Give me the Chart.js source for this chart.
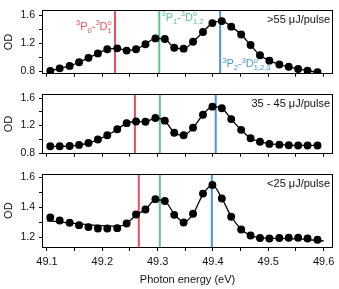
<!DOCTYPE html>
<html>
<head>
<meta charset="utf-8">
<script src="https://cdn.jsdelivr.net/npm/chart.js@4"></script>
<style>
  body { margin: 0; background: #fff; width: 339px; height: 289px; position: relative; overflow: hidden; }
  canvas { position: absolute; left: 0; }
</style>
</head>
<body>
<canvas id="c1" width="339" height="84" style="top:0px"></canvas>
<canvas id="c2" width="339" height="80" style="top:84px"></canvas>
<canvas id="c3" width="339" height="125" style="top:164px"></canvas>
<script>
// photon energies of the measured points (eV)
const energy = [49.106, 49.123, 49.141, 49.158, 49.175, 49.192, 49.209, 49.227, 49.244, 49.261,
                49.278, 49.296, 49.313, 49.330, 49.347, 49.364, 49.382, 49.399, 49.416, 49.433,
                49.451, 49.468, 49.485, 49.502, 49.520, 49.537, 49.554, 49.571, 49.589];

const odHigh = [0.808, 0.844, 0.879, 0.931, 0.994, 1.057, 1.117, 1.129, 1.097, 1.117,
                1.188, 1.271, 1.263, 1.137, 1.125, 1.223, 1.362, 1.489, 1.517, 1.438,
                1.327, 1.176, 1.030, 0.954, 0.899, 0.867, 0.836, 0.812, 0.788];

const odMid = [0.898, 0.898, 0.902, 0.918, 0.945, 0.996, 1.059, 1.145, 1.235, 1.259,
               1.255, 1.310, 1.271, 1.094, 1.059, 1.169, 1.357, 1.475, 1.451, 1.294,
               1.137, 1.016, 0.965, 0.933, 0.922, 0.914, 0.910, 0.910, 0.910];

const odLow = [1.333, 1.313, 1.298, 1.282, 1.269, 1.260, 1.260, 1.262, 1.293, 1.353,
               1.387, 1.456, 1.444, 1.351, 1.300, 1.358, 1.493, 1.551, 1.460, 1.338,
               1.253, 1.213, 1.196, 1.193, 1.196, 1.198, 1.198, 1.193, 1.184];

// fitted curve of the low fluence trace
const fitLowE = [49.100, 49.230, 49.244, 49.261, 49.278, 49.296, 49.313, 49.330, 49.347, 49.364,
                 49.382, 49.399, 49.416, 49.433, 49.451, 49.468, 49.485, 49.502, 49.520, 49.537,
                 49.554, 49.571, 49.600];
const fitLowOD = [1.310, 1.275, 1.293, 1.350, 1.387, 1.452, 1.442, 1.358, 1.302, 1.356,
                  1.488, 1.549, 1.462, 1.340, 1.255, 1.213, 1.198, 1.193, 1.193, 1.192,
                  1.190, 1.186, 1.176];

const panelLabels = ['>55 μJ/pulse', '35 - 45 μJ/pulse', '<25 μJ/pulse'];

// transition energies marked in each panel
const lineP0 = [49.223, 49.259, 49.266];
const lineP1 = [49.303, 49.304, 49.304];
const lineP2 = [49.413, 49.405, 49.398];

const xTicks = [49.1, 49.15, 49.2, 49.25, 49.3, 49.35, 49.4, 49.45, 49.5, 49.55, 49.6];
const yTicks = [[0.8, 1.0, 1.2, 1.4, 1.6], [0.8, 1.0, 1.2, 1.4, 1.6], [1.2, 1.3, 1.4, 1.5, 1.6]];
const yLabels = [[0.8, 1.2, 1.6], [0.8, 1.2, 1.6], [1.2, 1.4, 1.6]];
const yRanges = [[0.768, 1.671], [0.79, 1.655], [1.136, 1.622]];

const RED = '#ec5060', GREEN = '#5fc58a', BLUE = '#4a95d8';
const FONT = '"Liberation Sans", Arial, sans-serif';

const xy = (xs, ys) => xs.map((x, i) => ({x: x, y: ys[i]}));

// term symbols, e.g. 3P0-3Do1 with super/subscripts
function termPieces(j, upper) {
  return [['sup', '3'], ['n', 'P'], ['sub', j], ['n', '-'], ['sup', '3'], ['n', 'D'], ['stack', 'o', upper]];
}
function pieceWidth(ctx, p) {
  if (p[0] === 'n') { ctx.font = '11px ' + FONT; return ctx.measureText(p[1]).width; }
  ctx.font = '7.5px ' + FONT;
  if (p[0] === 'stack') return Math.max(ctx.measureText(p[1]).width, ctx.measureText(p[2]).width);
  return ctx.measureText(p[1]).width;
}
function drawTerm(ctx, pieces, x, y, align, color) {
  let total = 0;
  pieces.forEach(p => total += pieceWidth(ctx, p));
  let cx = align === 'right' ? x - total : x;
  ctx.fillStyle = color;
  ctx.textAlign = 'left';
  ctx.textBaseline = 'alphabetic';
  pieces.forEach(p => {
    const w = pieceWidth(ctx, p);
    if (p[0] === 'n') { ctx.font = '11px ' + FONT; ctx.fillText(p[1], cx, y); }
    else {
      ctx.font = '7.5px ' + FONT;
      if (p[0] === 'sup') ctx.fillText(p[1], cx, y - 4.5);
      if (p[0] === 'sub') ctx.fillText(p[1], cx, y + 3);
      if (p[0] === 'stack') { ctx.fillText(p[1], cx, y - 4.5); ctx.fillText(p[2], cx, y + 3); }
    }
    cx += w;
  });
}

const framePlugin = {
  id: 'frame',
  beforeDatasetsDraw(chart, args, opts) {
    const ctx = chart.ctx, a = chart.chartArea, x = chart.scales.x;
    ctx.save();
    ctx.lineWidth = 2;
    opts.lines.forEach(l => {
      const px = x.getPixelForValue(l.value);
      ctx.strokeStyle = l.color;
      ctx.beginPath();
      ctx.moveTo(px, a.top);
      ctx.lineTo(px, a.bottom);
      ctx.stroke();
    });
    ctx.restore();
  },
  afterDatasetsDraw(chart, args, opts) {
    const ctx = chart.ctx, a = chart.chartArea;
    const x = chart.scales.x, y = chart.scales.y;
    ctx.save();
    ctx.strokeStyle = '#000';
    ctx.lineWidth = 1;
    ctx.strokeRect(Math.round(a.left) + 0.5, Math.round(a.top) + 0.5,
                   Math.round(a.right - a.left) - 1, Math.round(a.bottom - a.top));
    ctx.fillStyle = '#111';
    ctx.font = '11px ' + FONT;
    ctx.textAlign = 'right';
    ctx.textBaseline = 'middle';
    ctx.fillText(opts.label, a.right - 3, a.top + 9.5);
    (opts.terms || []).forEach(t => {
      drawTerm(ctx, t.pieces, x.getPixelForValue(t.x), y.getPixelForValue(t.y), t.align, t.color);
    });
    ctx.restore();
  }
};

function makePanel(id, i, datasets, terms, showX) {
  new Chart(document.getElementById(id), {
    type: 'scatter',
    data: {datasets: datasets},
    options: {
      responsive: false,
      animation: false,
      layout: {padding: {top: [5, 4, 9][i], right: 6, left: 0, bottom: 0}},
      plugins: {
        legend: {display: false},
        tooltip: {enabled: false},
        frame: {
          label: panelLabels[i],
          lines: [{value: lineP0[i], color: RED}, {value: lineP1[i], color: GREEN}, {value: lineP2[i], color: BLUE}],
          terms: terms
        }
      },
      scales: {
        x: {
          type: 'linear',
          min: 49.091, max: 49.617,
          afterBuildTicks: s => { s.ticks = xTicks.map(v => ({value: v})); },
          afterFit: s => { s.height = showX ? 42 : 3; },
          border: {display: false},
          grid: {drawOnChartArea: false, drawTicks: true, tickLength: showX ? 4 : 3, color: '#000'},
          ticks: {
            display: showX,
            color: '#111',
            padding: 4,
            maxRotation: 0,
            autoSkip: false,
            font: {family: FONT, size: 11},
            callback: v => Math.abs(v * 10 - Math.round(v * 10)) < 1e-6 ? v.toFixed(1) : ''
          },
          title: {
            display: showX,
            text: 'Photon energy (eV)',
            color: '#111',
            font: {family: FONT, size: 11},
            padding: {top: 0, bottom: 2}
          }
        },
        y: {
          min: yRanges[i][0], max: yRanges[i][1],
          afterBuildTicks: s => { s.ticks = yTicks[i].map(v => ({value: v})); },
          afterFit: s => { s.width = 42; },
          border: {display: false},
          grid: {drawOnChartArea: false, drawTicks: true, tickLength: 3, color: '#000'},
          ticks: {
            color: '#111',
            padding: 4,
            font: {family: FONT, size: 10.5},
            callback: v => yLabels[i].some(l => Math.abs(l - v) < 1e-6) ? v.toFixed(1) : ''
          },
          title: {
            display: true,
            text: 'OD',
            color: '#111',
            font: {family: FONT, size: 11},
            padding: {top: 2, bottom: 0}
          }
        }
      }
    },
    plugins: [framePlugin]
  });
}

const dotStyle = {
  pointRadius: 3.3,
  pointBackgroundColor: '#000',
  pointBorderColor: '#000',
  borderColor: '#000',
  borderWidth: 1.3,
  cubicInterpolationMode: 'monotone'
};

makePanel('c1', 0,
  [Object.assign({data: xy(energy, odHigh), showLine: true}, dotStyle)],
  [
    {pieces: termPieces('0', '1'), x: lineP0[0] - 0.006, y: 1.394, align: 'right', color: RED},
    {pieces: termPieces('1', '1,2'), x: lineP1[0] + 0.004, y: 1.525, align: 'left', color: GREEN},
    {pieces: termPieces('2', '1,2,3'), x: lineP2[0] + 0.004, y: 0.859, align: 'left', color: BLUE}
  ], false);

makePanel('c2', 1,
  [Object.assign({data: xy(energy, odMid), showLine: true}, dotStyle)],
  [], false);

makePanel('c3', 2,
  [
    Object.assign({data: xy(energy, odLow), showLine: false}, dotStyle),
    {data: xy(fitLowE, fitLowOD), showLine: true, pointRadius: 0, borderColor: '#000', borderWidth: 1.3,
     cubicInterpolationMode: 'monotone'}
  ],
  [], true);
</script>
</body>
</html>
